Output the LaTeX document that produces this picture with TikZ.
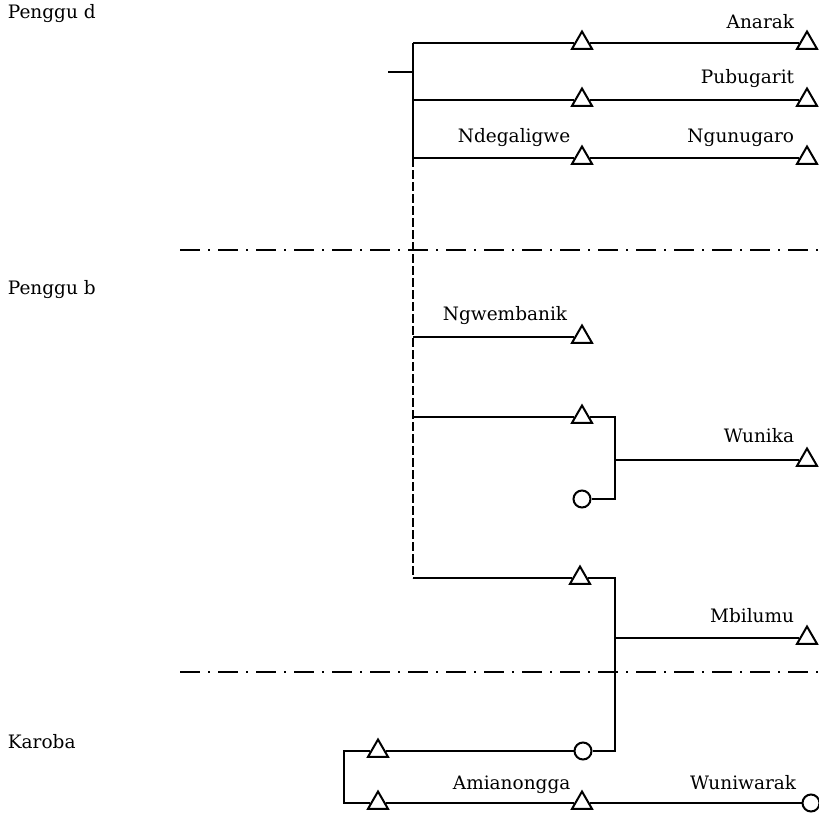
\documentclass[tikz,border=0pt]{standalone}
\usepackage{fontspec}
\setmainfont{DejaVu Serif}
\usetikzlibrary{shapes.geometric}
\begin{document}
\begin{tikzpicture}[x=1pt,y=-1pt,
  every path/.style={line width=1.8pt},
  male/.style={draw,regular polygon,regular polygon sides=3,minimum size=23pt,inner sep=0pt,line width=2pt},
  female/.style={draw,circle,minimum size=17pt,inner sep=0pt,line width=2pt},
  lbl/.style={inner sep=0pt,font=\fontsize{18.5}{22}\selectfont},
  bound/.style={line width=1.8pt,dash pattern=on 20pt off 8pt on 2pt off 8pt},
  trunkdash/.style={line width=1.8pt,dash pattern=on 9pt off 3pt}]
\useasboundingbox (0,0) rectangle (819,814);
% section labels
\node[lbl,anchor=base west] (pd) at (7,18) {Penggu d};
\node[lbl,anchor=base west] (pb) at (7,294) {Penggu b};
\node[lbl,anchor=base west] (kb) at (7,748) {Karoba};
% boundaries
\coordinate (b1l) at (180,250); \coordinate (b1r) at (819,250);
\coordinate (b2l) at (180,672); \coordinate (b2r) at (819,672);
\draw[bound] (b1l) -- (b1r);
\draw[bound] (b2l) -- (b2r);
% trunk
\coordinate (t1) at (413,43);
\coordinate (t2) at (413,100);
\coordinate (t3) at (413,158);
\coordinate (t4) at (413,337);
\coordinate (t5) at (413,417);
\coordinate (t6) at (413,578);
\coordinate (tk) at (388,72);
\coordinate (tkr) at (413,72);
\draw (t1) -- (t3);
\draw[trunkdash] (t3) -- (t6);
\draw (tk) -- (tkr);
% Penggu d rows
\node[male] (a1) at (582,43) {};
\node[male] (a2) at (807,43) {};
\node[male] (p1) at (582,100) {};
\node[male] (p2) at (807,100) {};
\node[male] (n1) at (582,158) {};
\node[male] (n2) at (807,158) {};
\draw (t1) -- (a1) -- (a2);
\draw (t2) -- (p1) -- (p2);
\draw (t3) -- (n1) -- (n2);
\node[lbl,anchor=base east] (lanarak) at (795,28) {Anarak};
\node[lbl,anchor=base east] (lpubu) at (795,83) {Pubugarit};
\node[lbl,anchor=base west] (lndeg) at (457,142) {Ndegaligwe};
\node[lbl,anchor=base east] (lngun) at (795,142) {Ngunugaro};
% Penggu b
\node[male] (g1) at (582,337) {};
\draw (t4) -- (g1);
\node[lbl,anchor=base west] (lngw) at (442,320) {Ngwembanik};
\node[male] (w1) at (582,417) {};
\node[female] (w2) at (582,499) {};
\coordinate (bw1) at (615,417);
\coordinate (bw2) at (615,499);
\coordinate (bwm) at (615,460);
\node[male] (wu) at (807,460) {};
\draw (t5) -- (w1);
\draw (w1) -- (bw1) -- (bw2) -- (w2);
\draw (bwm) -- (wu);
\node[lbl,anchor=base east] (lwun) at (795,442) {Wunika};
% Mbilumu
\node[male] (m1) at (580,578) {};
\node[female] (m2) at (583,751) {};
\coordinate (bm1) at (615,578);
\coordinate (bm2) at (615,751);
\coordinate (bmm) at (615,638);
\node[male] (mb) at (807,638) {};
\draw (t6) -- (m1);
\draw (m1) -- (bm1) -- (bm2) -- (m2);
\draw (bmm) -- (mb);
\node[lbl,anchor=base east] (lmbi) at (795,622) {Mbilumu};
% Karoba
\node[male] (k1) at (378,751) {};
\node[male] (k2) at (378,803) {};
\node[male] (k3) at (582,803) {};
\node[female] (k4) at (811,803) {};
\coordinate (kb1) at (344,751);
\coordinate (kb2) at (344,803);
\draw (k1) -- (m2);
\draw (k1) -- (kb1) -- (kb2) -- (k2);
\draw (k2) -- (k3) -- (k4);
\node[lbl,anchor=base west] (lamia) at (452,789) {Amianongga};
\node[lbl,anchor=base east] (lwuni) at (797,789) {Wuniwarak};
\end{tikzpicture}
\end{document}
